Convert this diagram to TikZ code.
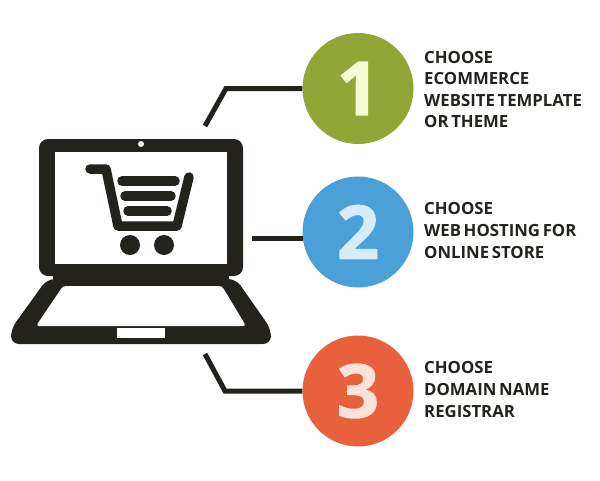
\documentclass[tikz,border=0pt]{standalone}
\usepackage{fontspec}
\setmainfont{Open Sans}[WordSpace=0.62]
\newfontfamily\digitfont{Open Sans}[BoldFeatures={FakeBold=1.6}]
\definecolor{inkdark}{HTML}{23221D}
\definecolor{stepgreen}{HTML}{92A537}
\definecolor{stepblue}{HTML}{4BA0D8}
\definecolor{stepred}{HTML}{E9603C}
\tikzset{
  numdot/.style={circle,minimum size=111pt,inner sep=0pt,font=\fontsize{74}{74}\digitfont\bfseries},
  steptext/.style={anchor=west,align=left,inner sep=0pt,text=inkdark,font=\fontsize{16.75}{21.6}\selectfont\bfseries},
  link/.style={draw=inkdark,line width=5pt},
  cartbar/.style={draw=inkdark,line width=9.5pt,line cap=round},
}
\begin{document}
\begin{tikzpicture}[x=1pt,y=-1pt]
    \useasboundingbox (0,0) rectangle (600,480);
    \fill[white] (0,0) rectangle (600,480);
    % steps
    \node[numdot,fill=stepgreen,text={rgb,255:red,245;green,251;blue,213}] (one) at (358,88.5) {1};
    \node[numdot,fill=stepblue,text={rgb,255:red,214;green,236;blue,250}] (two) at (358,232) {2};
    \node[numdot,fill=stepred,text={rgb,255:red,252;green,226;blue,216}] (three) at (358,391) {3};
    \node[steptext] (textone) at (424,89.5) {CHOOSE\\ECOMMERCE\\WEBSITE TEMPLATE\\OR THEME};
    \node[steptext] (texttwo) at (424,230.5) {CHOOSE\\WEB HOSTING FOR\\ONLINE STORE};
    \node[steptext] (textthree) at (424,389.5) {CHOOSE\\DOMAIN NAME\\REGISTRAR};
    % connectors
    \coordinate (topend) at (205,126);
    \coordinate (topbend) at (226,88.5);
    \coordinate (midend) at (252,238);
    \coordinate (midjoin) at (303,238);
    \coordinate (lowend) at (205,354);
    \coordinate (lowbend) at (225,391);
    \draw[link] (topend) -- (topbend) -- (one.west);
    \draw[link] (midend) -- (midjoin);
    \draw[link] (lowend) -- (lowbend) -- (three.west);
    % lid
    \fill[inkdark,rounded corners=9pt] (39,139) rectangle (243,276);
    \fill[inkdark] (53,270) rectangle (229,286);
    \fill[white] (55,152) rectangle (227,264);
    \fill[white] (141,144) circle (3);
    % base
    \fill[inkdark,rounded corners=8pt] (47,279) -- (236,279) -- (271,329) -- (271,344) -- (11,344) -- (11,329) -- cycle;
    \fill[white,rounded corners=3pt] (63,286) -- (222,286) -- (246,326) -- (36,326) -- cycle;
    \fill[white] (117,328) rectangle (165,338);
    % cart
    \draw[cartbar,line join=round] (90,169) -- (106,169) -- (118,226) -- (177,226) -- (189,177);
    \draw[cartbar] (122,181) -- (175,181);
    \draw[cartbar] (125,196) -- (171,196);
    \draw[cartbar] (128,211) -- (167,211);
    \fill[inkdark] (130,245) circle (10);
    \fill[inkdark] (164,245) circle (10);
\end{tikzpicture}
\end{document}
